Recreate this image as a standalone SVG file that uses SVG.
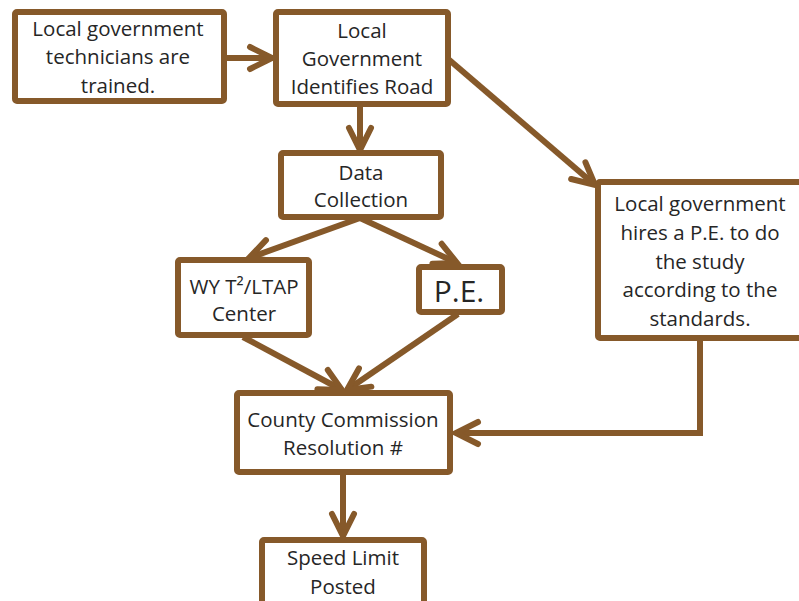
<svg xmlns="http://www.w3.org/2000/svg" width="799" height="601" viewBox="0 0 799 601">
<style>
  .box { fill: #ffffff; stroke: #86592A; stroke-width: 6; stroke-linejoin: round; }
  .conn { fill: none; stroke: #86592A; stroke-width: 6; stroke-linecap: butt; stroke-linejoin: miter; }
  text { font-family: "Open Sans", "Noto Sans", sans-serif; font-size: 20.5px; fill: #262626; text-anchor: middle; }
  .big { font-size: 30px; }
</style>
<defs>
  <marker id="chev" markerUnits="userSpaceOnUse" markerWidth="40" markerHeight="40" viewBox="-30 -20 40 40" refX="0" refY="0" orient="auto">
    <path d="M -22 -11 L 0 0 L -22 11" fill="none" stroke="#86592A" stroke-width="6" stroke-linecap="round" stroke-linejoin="miter"/>
  </marker>
</defs>
<rect width="799" height="601" fill="#ffffff"/>

<g id="connectors">
  <line class="conn" x1="226" y1="58" x2="272" y2="58" marker-end="url(#chev)"/>
  <line class="conn" x1="360" y1="107" x2="360" y2="150" marker-end="url(#chev)"/>
  <line class="conn" x1="447" y1="58" x2="595" y2="185" marker-end="url(#chev)"/>
  <line class="conn" x1="360" y1="218" x2="249" y2="258" marker-end="url(#chev)"/>
  <line class="conn" x1="360" y1="218" x2="457" y2="263" marker-end="url(#chev)"/>
  <line class="conn" x1="243" y1="337" x2="342" y2="390" marker-end="url(#chev)"/>
  <line class="conn" x1="458" y1="314" x2="347" y2="390" marker-end="url(#chev)"/>
  <polyline class="conn" points="700,341 700,433 456,433" marker-end="url(#chev)"/>
  <line class="conn" x1="343" y1="475" x2="343" y2="536" marker-end="url(#chev)"/>
</g>

<g id="node-trained">
  <rect class="box" x="15" y="12" width="209" height="89" rx="2"/>
  <text x="118" y="36">Local government</text>
  <text x="118" y="64">technicians are</text>
  <text x="118" y="93">trained.</text>
</g>

<g id="node-identifies">
  <rect class="box" x="276" y="12" width="172" height="92" rx="2"/>
  <text x="362" y="38">Local</text>
  <text x="362" y="66">Government</text>
  <text x="362" y="94">Identifies Road</text>
</g>

<g id="node-data">
  <rect class="box" x="281" y="153" width="160" height="64" rx="2"/>
  <text x="361" y="180">Data</text>
  <text x="361" y="207">Collection</text>
</g>

<g id="node-wy">
  <rect class="box" x="178" y="260" width="131" height="75" rx="2"/>
  <text x="244" y="294">WY T²/LTAP</text>
  <text x="244" y="321">Center</text>
</g>

<g id="node-pe">
  <rect class="box" x="419" y="267" width="83" height="45" rx="2"/>
  <text class="big" x="459" y="302">P.E.</text>
</g>

<g id="node-hires">
  <rect class="box" x="598" y="182" width="208" height="156" rx="2"/>
  <text x="700" y="211">Local government</text>
  <text x="700" y="240">hires a P.E. to do</text>
  <text x="700" y="269">the study</text>
  <text x="700" y="297">according to the</text>
  <text x="700" y="326">standards.</text>
</g>

<g id="node-county">
  <rect class="box" x="237" y="393" width="213" height="79" rx="2"/>
  <text x="343" y="427">County Commission</text>
  <text x="343" y="455">Resolution #</text>
</g>

<g id="node-speed">
  <rect class="box" x="262" y="540" width="162" height="80" rx="2"/>
  <text x="343" y="565">Speed Limit</text>
  <text x="343" y="594">Posted</text>
</g>
</svg>
